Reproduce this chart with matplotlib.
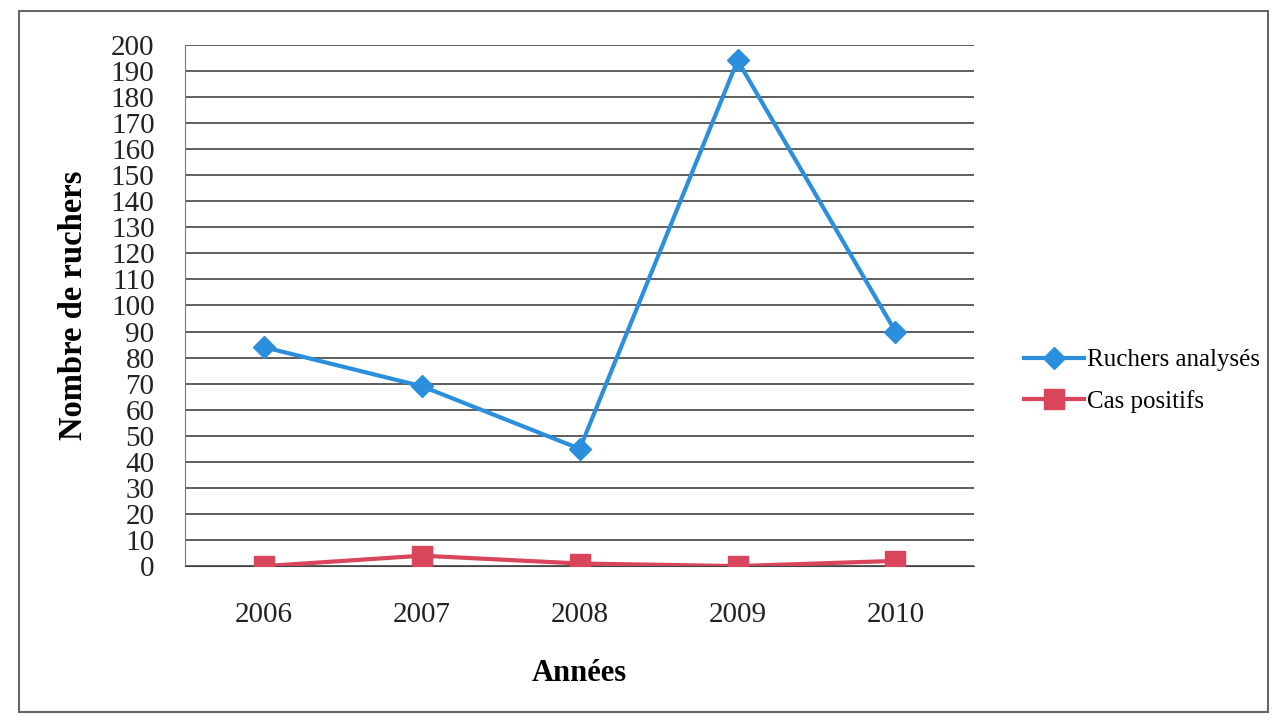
import matplotlib.pyplot as plt
from matplotlib.patches import Rectangle

# Données par année
annees = ['2006', '2007', '2008', '2009', '2010']
ruchers_analyses = [84, 69, 45, 194, 90]
cas_positifs = [0, 4, 1, 0, 2]
y_ticks = list(range(0, 201, 10))

plt.rcParams['font.family'] = ['Liberation Serif', 'DejaVu Serif']

fig = plt.figure(figsize=(12.77, 7.23), dpi=100)
ax = fig.add_axes([0.145, 0.217, 0.618, 0.721])

x = range(len(annees))
ax.plot(x, ruchers_analyses, color='#2b8fde', linewidth=3, marker='D',
        markersize=11, label='Ruchers analysés', zorder=3)
ax.plot(x, cas_positifs, color='#d9455a', linewidth=3, marker='s',
        markersize=14, label='Cas positifs', zorder=3)

ax.set_xlim(-0.5, len(annees) - 0.5)
ax.set_ylim(0, 200)
ax.set_yticks(y_ticks)
ax.set_yticklabels([str(v) for v in y_ticks], fontsize=21)
ax.set_xticks(list(x))
ax.set_xticklabels(annees, fontsize=21)
ax.tick_params(axis='both', length=0, colors='#222222')
ax.tick_params(axis='y', pad=22)
ax.tick_params(axis='x', pad=26)

ax.grid(axis='y', color='#333333', linewidth=1.1)
ax.set_axisbelow(True)
for side in ['top', 'right']:
    ax.spines[side].set_visible(False)
ax.spines['left'].set_color('#777777')
ax.spines['bottom'].set_color('#444444')

ax.set_ylabel('Nombre de ruchers', fontsize=23.5, fontweight='bold', labelpad=16)
ax.set_xlabel('Années', fontsize=22, fontweight='bold', labelpad=22)

ax.legend(loc='center left', bbox_to_anchor=(1.035, 0.355), frameon=False,
          fontsize=18, handlelength=2.4, handletextpad=0.1, labelspacing=0.75)

# cadre de la zone du graphique
fig.patches.append(Rectangle((0.015, 0.015), 0.978, 0.97, transform=fig.transFigure,
                             fill=False, edgecolor='#666666', linewidth=1.5))

fig.savefig('out.png', dpi=100)
